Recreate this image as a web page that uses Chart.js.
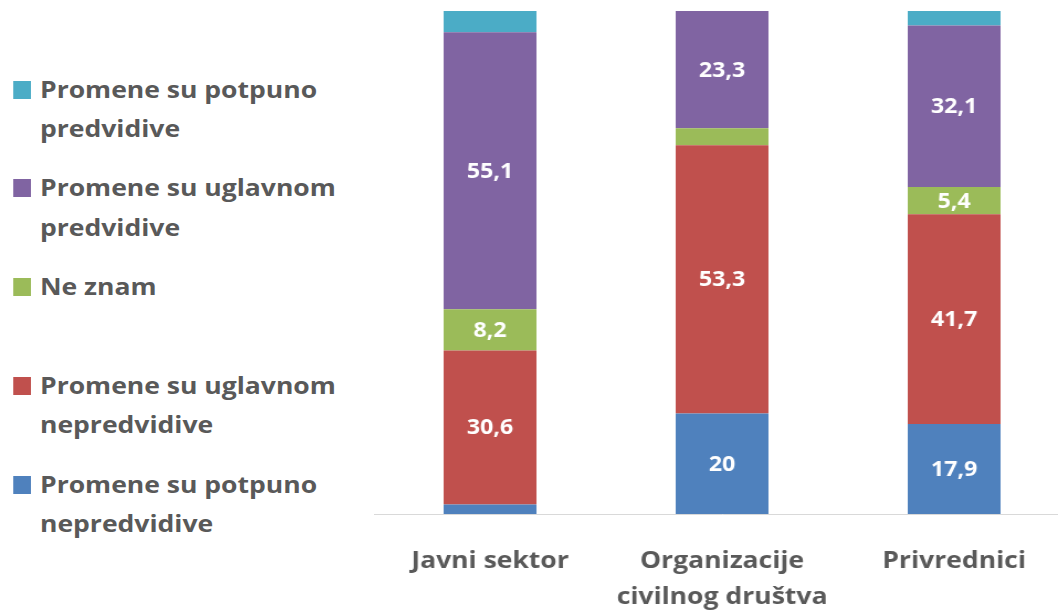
<!DOCTYPE html>
<html>
<head>
<meta charset="utf-8">
<script src="https://cdn.jsdelivr.net/npm/chart.js@4"></script>
<style>
    html, body {
        margin: 0;
        padding: 0;
        background: #ffffff;
        overflow: hidden;
    }
    #wrap {
        position: relative;
        width: 1058px;
        height: 611px;
        overflow: hidden;
    }
    /* the original picture is a bit stretched sideways */
    #chartBox {
        position: absolute;
        left: 374px;
        top: 0;
        width: 630px;
        height: 611px;
        transform: scaleX(1.105);
        transform-origin: 0 0;
    }
    #legend {
        position: absolute;
        left: 0;
        top: 0;
        width: 330px;
        height: 611px;
        transform: scaleX(1.105);
        transform-origin: 0 0;
    }
    .legend-item {
        position: absolute;
        left: 11.8px;
        font-family: 'Open Sans', sans-serif;
        font-weight: bold;
        font-size: 24px;
        line-height: 39.5px;
        color: #595959;
    }
    .legend-item .box {
        position: absolute;
        left: 0;
        top: 12.4px;
        width: 16.3px;
        height: 18px;
    }
    .legend-item .text {
        margin-left: 24.4px;
        width: 290px;
    }
</style>
</head>
<body>
<div id="wrap">
    <div id="legend"></div>
    <div id="chartBox"><canvas id="chart" width="630" height="611"></canvas></div>
</div>
<script>
// Categories and series (bottom of the stack first)
const categories = [['Javni sektor'], ['Organizacije', 'civilnog društva'], ['Privrednici']];
const seriesNames = [
    'Promene su potpuno nepredvidive',
    'Promene su uglavnom nepredvidive',
    'Ne znam',
    'Promene su uglavnom predvidive',
    'Promene su potpuno predvidive'
];
const seriesColors = ['#4F81BD', '#C0504D', '#9BBB59', '#8064A2', '#4BACC6'];

const potpunoNepredvidive = [1.9, 20, 17.9];
const uglavnomNepredvidive = [30.6, 53.3, 41.7];
const neZnam = [8.2, 3.4, 5.4];
const uglavnomPredvidive = [55.1, 23.3, 32.1];
const potpunoPredvidive = [4.2, 0, 2.9];

const seriesValues = [potpunoNepredvidive, uglavnomNepredvidive, neZnam, uglavnomPredvidive, potpunoPredvidive];

// Legend on the left, top item = last series
const legendTops = [68.6, 167.1, 265.6, 364.6, 463.6];
function buildLegend() {
    const legend = document.getElementById('legend');
    const order = seriesNames.map((n, i) => i).reverse();
    order.forEach((idx, pos) => {
        const item = document.createElement('div');
        item.className = 'legend-item';
        item.style.top = legendTops[pos] + 'px';
        item.innerHTML = `<span class="box" style="background:${seriesColors[idx]}"></span><div class="text">${seriesNames[idx]}</div>`;
        legend.appendChild(item);
    });
}

// Value labels inside the segments
const valueLabels = {
    id: 'valueLabels',
    afterDatasetsDraw(chart) {
        const ctx = chart.ctx;
        ctx.save();
        ctx.font = 'bold 21px "Open Sans"';
        ctx.fillStyle = '#ffffff';
        ctx.textAlign = 'center';
        ctx.textBaseline = 'middle';
        chart.data.datasets.forEach((ds, i) => {
            const meta = chart.getDatasetMeta(i);
            meta.data.forEach((bar, j) => {
                const v = ds.data[j];
                if (v < 5) return;
                const y = (bar.y + bar.base) / 2;
                ctx.fillText(String(v).replace('.', ','), bar.x, y + 1);
            });
        });
        ctx.restore();
    }
};

function drawChart() {
    const ctx = document.getElementById('chart').getContext('2d');
    new Chart(ctx, {
        type: 'bar',
        data: {
            labels: categories,
            datasets: seriesValues.map((vals, i) => ({
                label: seriesNames[i],
                data: vals,
                backgroundColor: seriesColors[i],
                borderWidth: 0,
                barPercentage: 0.4,
                categoryPercentage: 1
            }))
        },
        options: {
            responsive: false,
            animation: false,
            devicePixelRatio: 1,
            layout: {
                padding: { top: 11, left: 0, right: 0, bottom: 0 }
            },
            plugins: {
                legend: { display: false },
                tooltip: { enabled: false }
            },
            scales: {
                x: {
                    stacked: true,
                    grid: { display: false },
                    border: { display: true, color: '#D9D9D9', width: 1 },
                    ticks: {
                        color: '#595959',
                        font: { family: 'Open Sans', weight: 'bold', size: 24, lineHeight: '36px' },
                        padding: 21,
                        maxRotation: 0,
                        autoSkip: false
                    },
                    afterFit(scale) {
                        scale.height = 97;
                    }
                },
                y: {
                    stacked: true,
                    display: false,
                    min: 0,
                    max: 100
                }
            }
        },
        plugins: [valueLabels]
    });
}

buildLegend();
drawChart();
</script>
</body>
</html>
